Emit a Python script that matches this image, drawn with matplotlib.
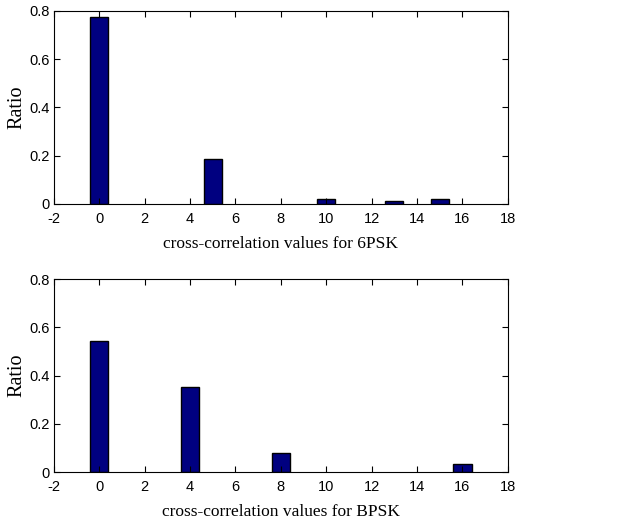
import matplotlib
matplotlib.use("Agg")
import matplotlib.pyplot as plt

x_top = [0, 5, 10, 13, 15]
y_top = [0.776, 0.186, 0.021, 0.014, 0.021]
x_bot = [0, 4, 8, 16]
y_bot = [0.544, 0.351, 0.080, 0.033]
xticks = list(range(-2, 19, 2))
yticks = [0, 0.2, 0.4, 0.6, 0.8]
ytick_labels = ["0", "0.2", "0.4", "0.6", "0.8"]
xlabels = ["cross-correlation values for 6PSK", "cross-correlation values for BPSK"]

fig = plt.figure(figsize=(6.42, 5.23), dpi=100)
ax1 = fig.add_axes([0.084, 0.610, 0.707, 0.369])
ax2 = fig.add_axes([0.084, 0.0975, 0.707, 0.369])

for ax, xs, ys, lab in [(ax1, x_top, y_top, xlabels[0]), (ax2, x_bot, y_bot, xlabels[1])]:
    ax.bar(xs, ys, width=0.8, color="#000080", edgecolor="black", linewidth=1.0)
    ax.set_xlim(-2, 18)
    ax.set_ylim(0, 0.8)
    ax.set_xticks(xticks)
    ax.set_xticklabels([str(t) for t in xticks], fontfamily="Liberation Sans", fontsize=10.5)
    ax.set_yticks(yticks)
    ax.set_yticklabels(ytick_labels, fontfamily="Liberation Sans", fontsize=10.5)
    ax.tick_params(axis="x", direction="in", top=True, length=4, width=0.8, pad=6)
    ax.tick_params(axis="y", direction="in", right=True, length=4, width=0.8, pad=3)
    ax.set_xlabel(lab, fontfamily="Liberation Serif", fontsize=12.5, labelpad=7)
    ax.set_ylabel("Ratio", fontfamily="Liberation Serif", fontsize=14.5, labelpad=2)
    for s in ax.spines.values():
        s.set_linewidth(0.8)

fig.savefig("out.png", dpi=100)
